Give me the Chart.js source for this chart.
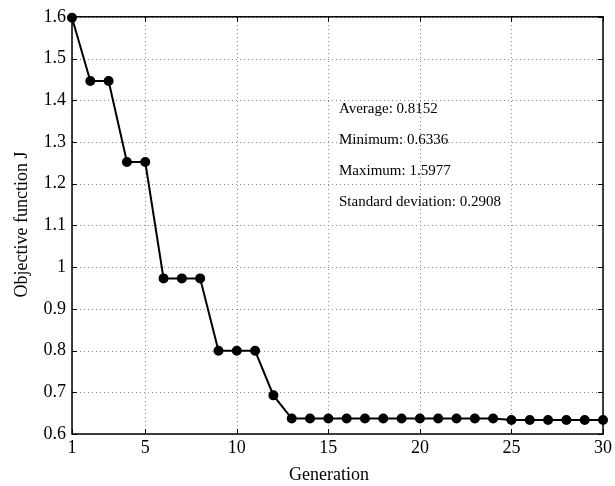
<!DOCTYPE html>
<html>
<head>
<meta charset="utf-8">
<script src="https://cdn.jsdelivr.net/npm/chart.js@4/dist/chart.umd.min.js"></script>
<style>
html,body{margin:0;padding:0;background:#fff;}
#wrap{width:615px;height:486px;position:relative;}
</style>
</head>
<body>
<div id="wrap"><canvas id="c" width="615" height="486"></canvas></div>
<script>
const generations = [1,2,3,4,5,6,7,8,9,10,11,12,13,14,15,16,17,18,19,20,21,22,23,24,25,26,27,28,29,30];
const objectiveJ = [1.5977,1.446,1.446,1.252,1.252,0.973,0.973,0.973,0.7995,0.7995,0.7995,0.6926,
  0.6370,0.6370,0.6370,0.6370,0.6370,0.6370,0.6370,0.6370,0.6370,0.6370,0.6370,0.6370,
  0.6336,0.6336,0.6336,0.6336,0.6336,0.6336];
const xTicks = [1,5,10,15,20,25,30];
const yTicks = [0.6,0.7,0.8,0.9,1.0,1.1,1.2,1.3,1.4,1.5,1.6];
const statLines = ["Average: 0.8152","Minimum: 0.6336","Maximum: 1.5977","Standard deviation: 0.2908"];
const xTitle = "Generation";
const yTitle = "Objective function J";

const serif = "'Liberation Serif','Times New Roman',serif";

const gridPlugin = {
  id:'dotgrid',
  beforeDatasetsDraw(chart){
    const {ctx, chartArea:a, scales:{x,y}} = chart;
    ctx.save();
    ctx.strokeStyle = '#8a8a8a';
    ctx.lineWidth = 1;
    ctx.setLineDash([1,3]);
    ctx.beginPath();
    xTicks.forEach(v=>{
      const px = Math.round(x.getPixelForValue(v))+0.5;
      ctx.moveTo(px,a.bottom); ctx.lineTo(px,a.top);
    });
    yTicks.forEach(v=>{
      const py = Math.round(y.getPixelForValue(v))+0.5;
      ctx.moveTo(a.left,py); ctx.lineTo(a.right,py);
    });
    ctx.stroke();
    ctx.restore();
  }
};

const boxPlugin = {
  id:'box',
  afterDraw(chart){
    const {ctx, chartArea:a, scales:{x,y}} = chart;
    ctx.save();
    ctx.strokeStyle = '#000';
    ctx.lineWidth = 1;
    const tl = 5;
    ctx.beginPath();
    xTicks.forEach(v=>{
      const px = Math.round(x.getPixelForValue(v))+0.5;
      ctx.moveTo(px,a.bottom); ctx.lineTo(px,a.bottom-tl);
      ctx.moveTo(px,a.top); ctx.lineTo(px,a.top+tl);
    });
    yTicks.forEach(v=>{
      const py = Math.round(y.getPixelForValue(v))+0.5;
      ctx.moveTo(a.left,py); ctx.lineTo(a.left+tl,py);
      ctx.moveTo(a.right,py); ctx.lineTo(a.right-tl,py);
    });
    ctx.stroke();
    ctx.lineWidth = 1.5;
    ctx.strokeRect(a.left, a.top, a.right-a.left, a.bottom-a.top);
    ctx.fillStyle = '#000';
    // statistics text, placed in data coordinates
    ctx.font = "15px " + serif;
    ctx.textBaseline = 'middle';
    ctx.textAlign = 'left';
    const tx = x.getPixelForValue(15.58);
    statLines.forEach((s,i)=>{
      ctx.fillText(s, tx, y.getPixelForValue(1.379 - 0.0742*i));
    });
    // axis titles
    ctx.font = "18px " + serif;
    ctx.textAlign = 'center';
    ctx.fillText(xTitle, 329, 475);
    ctx.translate(22, (a.top+a.bottom)/2 - 1);
    ctx.rotate(-Math.PI/2);
    ctx.fillText(yTitle, 0, 0);
    ctx.restore();
  }
};

new Chart(document.getElementById('c'), {
  type:'line',
  data:{
    datasets:[{
      data: generations.map((g,i)=>({x:g, y:objectiveJ[i]})),
      borderColor:'#000',
      backgroundColor:'#000',
      borderWidth:2,
      pointRadius:4,
      pointHoverRadius:4,
      pointBackgroundColor:'#000',
      pointBorderColor:'#000',
      tension:0,
      clip:false
    }]
  },
  options:{
    responsive:false,
    animation:false,
    events:[],
    layout:{padding:{top:16,right:12,left:0,bottom:0}},
    plugins:{legend:{display:false},tooltip:{enabled:false}},
    scales:{
      x:{
        type:'linear', min:1, max:30,
        afterBuildTicks(s){ s.ticks = xTicks.map(v=>({value:v})); },
        afterFit(s){ s.height = 52; },
        grid:{display:false, drawTicks:false},
        border:{display:false},
        ticks:{color:'#000', font:{family:serif,size:18}, padding:3, maxRotation:0,
          callback:(v)=>String(v)}
      },
      y:{
        type:'linear', min:0.6, max:1.6,
        afterBuildTicks(s){ s.ticks = yTicks.map(v=>({value:v})); },
        afterFit(s){ s.width = 72; },
        grid:{display:false, drawTicks:false},
        border:{display:false},
        ticks:{color:'#000', font:{family:serif,size:18}, padding:6,
          callback:(v)=>String(Math.round(v*10)/10)}
      }
    }
  },
  plugins:[gridPlugin, boxPlugin]
});
</script>
</body>
</html>
